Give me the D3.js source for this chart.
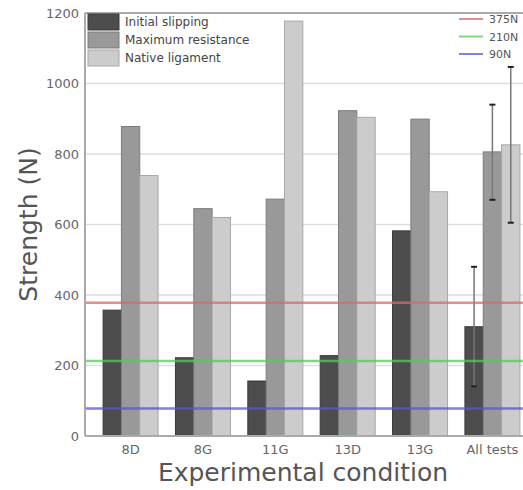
<!DOCTYPE html>
<html>
<head>
<meta charset="utf-8">
<script src="https://cdn.jsdelivr.net/npm/d3@7"></script>
<style>
  body { margin: 0; background: #fff; }
  svg { display: block; }
  svg text { font-family: "DejaVu Sans", Verdana, sans-serif; }
</style>
</head>
<body>
<svg id="chart"></svg>
<script>
// data
var categories = ["8D", "8G", "11G", "13D", "13G", "All tests"];
var seriesNames = ["Initial slipping", "Maximum resistance", "Native ligament"];
var initialSlipping = [357, 222, 156, 228, 582, 310];
var maxResistance = [878, 645, 672, 923, 899, 806];
var nativeLigament = [739, 620, 1177, 904, 693, 826];
// error bars (only on "All tests")
var errLow = [141, 670, 605];
var errHigh = [480, 940, 1047];
var refLabels = ["375N", "210N", "90N"];
var refValues = [378, 213, 78];
var refColors = ["#e06666", "#55cc55", "#5555dd"];
var yTicks = [0, 200, 400, 600, 800, 1000, 1200];

var W = 523, H = 490;
var margin = { top: 13, right: -15, bottom: 54, left: 85 };
var width = W - margin.left - margin.right,
    height = H - margin.top - margin.bottom;

var fills = ["#4d4d4d", "#999999", "#cccccc"];
var strokes = ["#3a3a3a", "#7d7d7d", "#a8a8a8"];

var svg = d3.select("#chart").attr("width", W).attr("height", H);
var g = svg.append("g").attr("transform", "translate(" + margin.left + "," + margin.top + ")");

var x0 = d3.scaleBand().domain(categories).range([0, width]).paddingInner(0.24).paddingOuter(0.25);
var x1 = d3.scaleBand().domain(seriesNames).range([0, x0.bandwidth()]);
var y = d3.scaleLinear().domain([0, 1200]).range([height, 0]);

// grid lines
g.selectAll(".grid").data(yTicks.slice(1, -1)).enter().append("line")
  .attr("x1", 0).attr("x2", width)
  .attr("y1", function (d) { return y(d); }).attr("y2", function (d) { return y(d); })
  .attr("stroke", "#dddddd").attr("stroke-width", 1.5);

// bars
var series = [initialSlipping, maxResistance, nativeLigament];
var rows = [];
categories.forEach(function (c, i) {
  seriesNames.forEach(function (s, j) {
    rows.push({ cat: c, ser: s, j: j, value: series[j][i] });
  });
});
g.selectAll(".bar").data(rows).enter().append("rect")
  .attr("class", "bar")
  .attr("x", function (d) { return x0(d.cat) + x1(d.ser); })
  .attr("width", x1.bandwidth())
  .attr("y", function (d) { return y(d.value); })
  .attr("height", function (d) { return height - y(d.value); })
  .attr("fill", function (d) { return fills[d.j]; })
  .attr("stroke", function (d) { return strokes[d.j]; })
  .attr("stroke-width", 1);

// error bars on last group
var last = categories[categories.length - 1];
seriesNames.forEach(function (s, j) {
  var cx = x0(last) + x1(s) + x1.bandwidth() / 2;
  g.append("line").attr("x1", cx).attr("x2", cx)
    .attr("y1", y(errLow[j])).attr("y2", y(errHigh[j]))
    .attr("stroke", "#777").attr("stroke-width", 1.5);
  [errLow[j], errHigh[j]].forEach(function (v) {
    g.append("line").attr("x1", cx - 3).attr("x2", cx + 3)
      .attr("y1", y(v)).attr("y2", y(v))
      .attr("stroke", "#222").attr("stroke-width", 2);
  });
});

// reference lines
refValues.forEach(function (v, i) {
  g.append("line").attr("x1", 0).attr("x2", width)
    .attr("y1", y(v)).attr("y2", y(v))
    .attr("stroke", refColors[i]).attr("stroke-width", 2.5).attr("opacity", 0.75);
});

// frame
g.append("line").attr("x1", 0).attr("x2", width).attr("y1", 0).attr("y2", 0)
  .attr("stroke", "#aaa").attr("stroke-width", 2);
g.append("line").attr("x1", 0).attr("x2", width).attr("y1", height).attr("y2", height)
  .attr("stroke", "#aaa").attr("stroke-width", 2);
g.append("line").attr("x1", 0).attr("x2", 0).attr("y1", 0).attr("y2", height)
  .attr("stroke", "#aaa").attr("stroke-width", 2);

// y axis
var yAxis = g.append("g")
  .call(d3.axisLeft(y).tickValues(yTicks).tickFormat(d3.format("d")).tickSize(0).tickPadding(6));
yAxis.select(".domain").remove();
yAxis.selectAll("text").attr("fill", "#666").style("font-size", "13px");

// x axis
var xAxis = g.append("g").attr("transform", "translate(0," + height + ")")
  .call(d3.axisBottom(x0).tickSize(0).tickPadding(9));
xAxis.select(".domain").remove();
xAxis.selectAll("text").attr("fill", "#666").style("font-size", "13px");

// axis titles
svg.append("text").attr("transform", "translate(37," + (margin.top + height / 2) + ") rotate(-90)")
  .attr("text-anchor", "middle").attr("fill", "#555").style("font-size", "25px")
  .text("Strength (N)");
svg.append("text").attr("x", 303).attr("y", 481)
  .attr("text-anchor", "middle").attr("fill", "#555").style("font-size", "25px")
  .text("Experimental condition");

// legend (series)
var leg = svg.append("g").attr("transform", "translate(88,14)");
seriesNames.forEach(function (s, j) {
  var row = leg.append("g").attr("transform", "translate(0," + j * 18 + ")");
  row.append("rect").attr("width", 31).attr("height", 16)
    .attr("fill", fills[j]).attr("stroke", strokes[j]);
  row.append("text").attr("x", 37).attr("y", 12).attr("fill", "#444")
    .style("font-size", "12px").text(s);
});

// legend (reference lines)
var leg2 = svg.append("g").attr("transform", "translate(459,19)");
refLabels.forEach(function (t, i) {
  var row = leg2.append("g").attr("transform", "translate(0," + i * 17.5 + ")");
  row.append("line").attr("x1", 0).attr("x2", 24).attr("y1", 0).attr("y2", 0)
    .attr("stroke", refColors[i]).attr("stroke-width", 2).attr("opacity", 0.75);
  row.append("text").attr("x", 30).attr("y", 4).attr("fill", "#555")
    .style("font-size", "11px").text(t);
});
</script>
</body>
</html>
